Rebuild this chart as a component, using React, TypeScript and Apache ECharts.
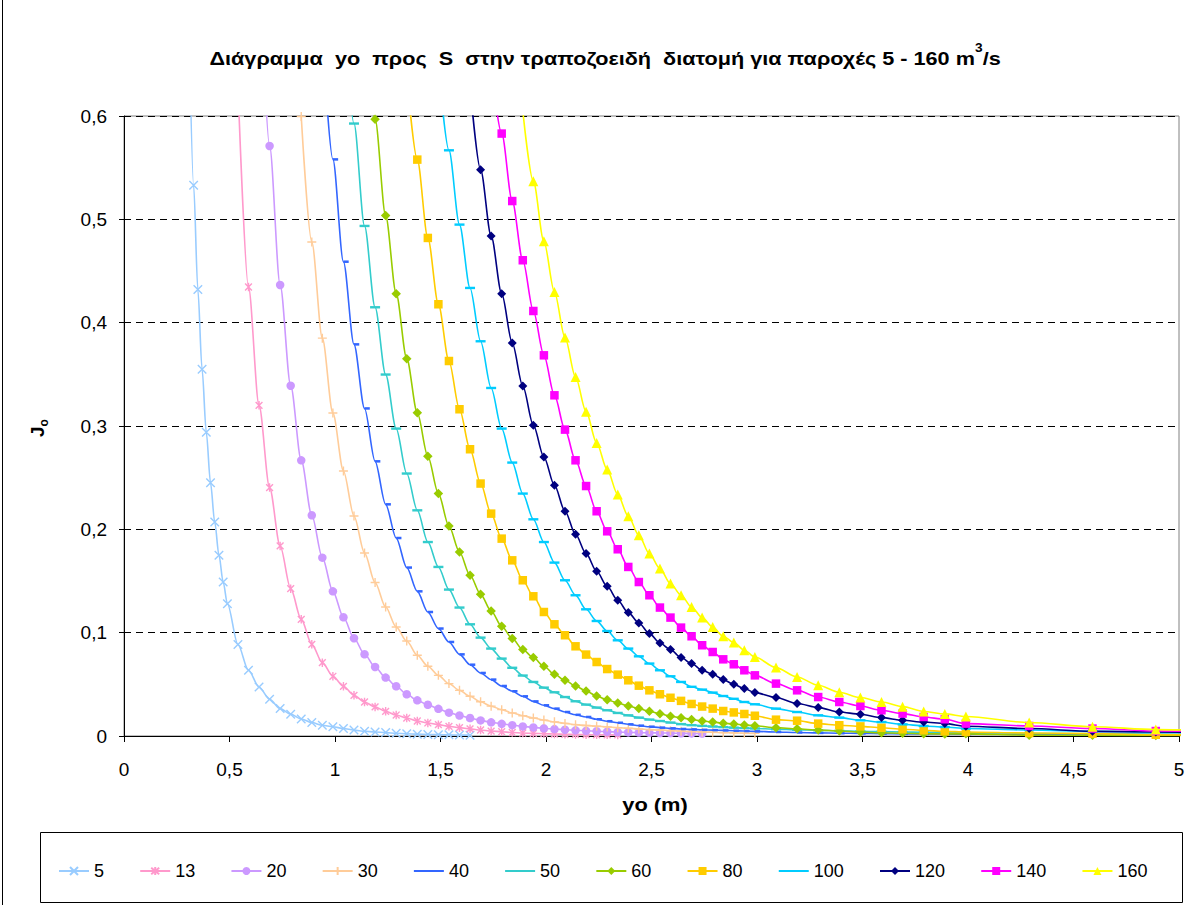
import React, { useEffect, useRef } from 'react';
import * as echarts from 'echarts';

const FONT = "'Liberation Sans', Arial, Helvetica, sans-serif";

// Discharge classes (m3/s) – legend names
const names = ['5', '13', '20', '30', '40', '50', '60', '80', '100', '120', '140', '160'];
const colors = ['#99CCFF', '#FF99CC', '#CC99FF', '#FFCC99', '#3366FF', '#33CCCC', '#99CC00', '#FFCC00', '#00CCFF', '#000080', '#FF00FF', '#FFFF00'];

// [yo (m), Jo] pairs
const q5 = [[0.31,0.67],[0.33,0.533],[0.35,0.432],[0.37,0.355],[0.39,0.294],[0.41,0.245],[0.43,0.207],[0.45,0.175],[0.47,0.149],[0.49,0.128],[0.54,0.0885],[0.59,0.0636],[0.64,0.0474],[0.69,0.0355],[0.74,0.0265],[0.79,0.021],[0.84,0.0165],[0.89,0.013],[0.94,0.0104],[0.99,0.009],[1.04,0.0072],[1.09,0.0057],[1.14,0.0046],[1.19,0.0039],[1.24,0.0033],[1.29,0.0026],[1.34,0.0022],[1.39,0.0018],[1.44,0.0015],[1.49,0.0013],[1.54,0.0011],[1.59,0.0009],[1.64,0.0008]];
const q13 = [[0.54,0.63],[0.59,0.4345],[0.64,0.32],[0.69,0.2404],[0.74,0.1839],[0.79,0.1426],[0.84,0.1129],[0.89,0.0887],[0.94,0.071],[0.99,0.0578],[1.04,0.0481],[1.09,0.0394],[1.14,0.0329],[1.19,0.0281],[1.24,0.0239],[1.29,0.0203],[1.34,0.0174],[1.39,0.0145],[1.44,0.0126],[1.49,0.011],[1.54,0.0094],[1.59,0.0081],[1.64,0.0069],[1.69,0.0058],[1.74,0.0048],[1.79,0.0041],[1.84,0.0034],[1.89,0.0029],[1.94,0.0025],[1.99,0.0022],[2.04,0.0019],[2.09,0.0017],[2.14,0.0015],[2.19,0.0013],[2.24,0.0012],[2.29,0.0011],[2.34,0.001]];
const q20 = [[0.64,0.77],[0.69,0.571],[0.74,0.4365],[0.79,0.339],[0.84,0.2668],[0.89,0.2136],[0.94,0.1726],[0.99,0.14],[1.04,0.1149],[1.09,0.0946],[1.14,0.0791],[1.19,0.0668],[1.24,0.0565],[1.29,0.0481],[1.34,0.0404],[1.39,0.0345],[1.44,0.0302],[1.49,0.0263],[1.54,0.0226],[1.59,0.0198],[1.64,0.0174],[1.69,0.0151],[1.74,0.0132],[1.79,0.0118],[1.84,0.0105],[1.89,0.0093],[1.94,0.0083],[1.99,0.0074],[2.04,0.0067],[2.09,0.0061],[2.14,0.0055],[2.19,0.005],[2.24,0.0046],[2.29,0.0042],[2.34,0.0038],[2.39,0.0035],[2.44,0.0033],[2.49,0.0031],[2.54,0.0029],[2.59,0.0028],[2.64,0.0026],[2.69,0.0025],[2.74,0.0024]];
const q30 = [[0.84,0.5995],[0.89,0.478],[0.94,0.385],[0.99,0.3126],[1.04,0.2565],[1.09,0.2129],[1.14,0.1771],[1.19,0.1485],[1.24,0.1248],[1.29,0.1055],[1.34,0.0919],[1.39,0.0781],[1.44,0.0675],[1.49,0.0587],[1.54,0.0507],[1.59,0.0442],[1.64,0.0384],[1.69,0.0331],[1.74,0.0289],[1.79,0.0255],[1.84,0.0223],[1.89,0.0196],[1.94,0.0174],[1.99,0.0154],[2.04,0.0137],[2.09,0.0122],[2.14,0.011],[2.19,0.0101],[2.24,0.0095],[2.29,0.0088],[2.34,0.0081],[2.39,0.0075],[2.44,0.0068],[2.49,0.0062],[2.54,0.0057],[2.59,0.0052],[2.64,0.0047],[2.69,0.0043],[2.74,0.0039],[2.79,0.0036],[2.84,0.0033],[2.89,0.003],[2.94,0.0027],[2.99,0.0025]];
const q40 = [[0.94,0.68],[0.99,0.558],[1.04,0.459],[1.09,0.379],[1.14,0.317],[1.19,0.2658],[1.24,0.2242],[1.29,0.1916],[1.34,0.163],[1.39,0.14],[1.44,0.12],[1.49,0.104],[1.54,0.091],[1.59,0.079],[1.64,0.069],[1.69,0.061],[1.74,0.0546],[1.79,0.0484],[1.84,0.0433],[1.89,0.0384],[1.94,0.0335],[1.99,0.0297],[2.04,0.0265],[2.09,0.0232],[2.14,0.0205],[2.19,0.0184],[2.24,0.0162],[2.29,0.0143],[2.34,0.0128],[2.39,0.0113],[2.44,0.01],[2.49,0.009],[2.54,0.0081],[2.59,0.0074],[2.64,0.0068],[2.69,0.0064],[2.74,0.006],[2.79,0.0057],[2.84,0.0054],[2.89,0.0051],[2.94,0.0048],[2.99,0.0045],[3.09,0.0039],[3.19,0.0034],[3.29,0.003],[3.39,0.0027],[3.49,0.0025],[3.59,0.0023],[3.69,0.0021],[3.79,0.002],[3.89,0.0019],[3.99,0.0018],[4.29,0.0016],[4.59,0.0014],[4.89,0.0013],[5.19,0.0012]];
const q50 = [[1.04,0.71],[1.09,0.5927],[1.14,0.4936],[1.19,0.4149],[1.24,0.3498],[1.29,0.2975],[1.34,0.254],[1.39,0.2184],[1.44,0.1877],[1.49,0.1636],[1.54,0.1417],[1.59,0.1243],[1.64,0.1081],[1.69,0.0952],[1.74,0.0846],[1.79,0.0749],[1.84,0.066],[1.89,0.0585],[1.94,0.0523],[1.99,0.0468],[2.04,0.0423],[2.09,0.0377],[2.14,0.0336],[2.19,0.0304],[2.24,0.0275],[2.29,0.0249],[2.34,0.0223],[2.39,0.02],[2.44,0.0178],[2.49,0.0159],[2.54,0.0145],[2.59,0.013],[2.64,0.0115],[2.69,0.0105],[2.74,0.0098],[2.79,0.0092],[2.84,0.0086],[2.89,0.0081],[2.94,0.0077],[2.99,0.0073],[3.09,0.0066],[3.19,0.006],[3.29,0.0055],[3.39,0.005],[3.49,0.0046],[3.59,0.0042],[3.69,0.0039],[3.79,0.0036],[3.89,0.0034],[3.99,0.0031],[4.29,0.0026],[4.59,0.0022],[4.89,0.0019],[5.19,0.0016]];
const q60 = [[1.14,0.7],[1.19,0.5968],[1.24,0.5036],[1.29,0.4281],[1.34,0.3652],[1.39,0.3128],[1.44,0.2707],[1.49,0.2346],[1.54,0.2032],[1.59,0.1781],[1.64,0.1555],[1.69,0.1371],[1.74,0.121],[1.79,0.1062],[1.84,0.0943],[1.89,0.0836],[1.94,0.0759],[1.99,0.0675],[2.04,0.0597],[2.09,0.0539],[2.14,0.0484],[2.19,0.0436],[2.24,0.0387],[2.29,0.035],[2.34,0.032],[2.39,0.029],[2.44,0.0265],[2.49,0.024],[2.54,0.0215],[2.59,0.0192],[2.64,0.0176],[2.69,0.016],[2.74,0.0145],[2.79,0.0135],[2.84,0.0124],[2.89,0.0115],[2.94,0.0107],[2.99,0.0099],[3.09,0.0081],[3.19,0.007],[3.29,0.0057],[3.39,0.0048],[3.49,0.0038],[3.59,0.0031],[3.69,0.0026],[3.79,0.0022],[3.89,0.002],[3.99,0.0021],[4.29,0.0008],[4.59,0.0007],[4.89,0.0005],[5.19,0.0004]];
const q80 = [[1.34,0.64],[1.39,0.5578],[1.44,0.482],[1.49,0.4178],[1.54,0.3629],[1.59,0.3162],[1.64,0.2775],[1.69,0.2443],[1.74,0.2152],[1.79,0.191],[1.84,0.17],[1.89,0.1507],[1.94,0.1352],[1.99,0.12],[2.04,0.1081],[2.09,0.0975],[2.14,0.0868],[2.19,0.0788],[2.24,0.0716],[2.29,0.0648],[2.34,0.0594],[2.39,0.0539],[2.44,0.0487],[2.49,0.0442],[2.54,0.0404],[2.59,0.037],[2.64,0.034],[2.69,0.031],[2.74,0.0285],[2.79,0.0265],[2.84,0.0242],[2.89,0.0228],[2.94,0.0213],[2.99,0.0196],[3.09,0.0158],[3.19,0.0148],[3.29,0.012],[3.39,0.0104],[3.49,0.0093],[3.59,0.008],[3.69,0.0065],[3.79,0.0055],[3.89,0.0045],[3.99,0.0039],[4.29,0.0029],[4.59,0.0023],[4.89,0.0012],[5.19,0.0008]];
const q100 = [[1.49,0.65],[1.54,0.5668],[1.59,0.4949],[1.64,0.4336],[1.69,0.382],[1.74,0.3368],[1.79,0.2975],[1.84,0.2646],[1.89,0.2346],[1.94,0.2097],[1.99,0.1877],[2.04,0.1678],[2.09,0.1507],[2.14,0.1362],[2.19,0.1226],[2.24,0.1113],[2.29,0.1016],[2.34,0.0926],[2.39,0.0846],[2.44,0.0771],[2.49,0.0701],[2.54,0.0636],[2.59,0.0578],[2.64,0.0523],[2.69,0.0476],[2.74,0.0449],[2.79,0.042],[2.84,0.0387],[2.89,0.036],[2.94,0.0329],[2.99,0.0307],[3.09,0.0265],[3.19,0.0232],[3.29,0.02],[3.39,0.0178],[3.49,0.0152],[3.59,0.0135],[3.69,0.0113],[3.79,0.0097],[3.89,0.0087],[3.99,0.0072],[4.29,0.0058],[4.59,0.0045],[4.89,0.0038],[5.19,0.0032]];
const q120 = [[1.64,0.63],[1.69,0.548],[1.74,0.4839],[1.79,0.4281],[1.84,0.3803],[1.89,0.3387],[1.94,0.3007],[1.99,0.27],[2.04,0.2426],[2.09,0.2175],[2.14,0.1952],[2.19,0.1765],[2.24,0.1594],[2.29,0.1449],[2.34,0.1313],[2.39,0.1194],[2.44,0.1094],[2.49,0.0991],[2.54,0.09],[2.59,0.0836],[2.64,0.0759],[2.69,0.0701],[2.74,0.0636],[2.79,0.0597],[2.84,0.0546],[2.89,0.05],[2.94,0.0459],[2.99,0.042],[3.09,0.0372],[3.19,0.0314],[3.29,0.0275],[3.39,0.0232],[3.49,0.021],[3.59,0.0178],[3.69,0.0152],[3.79,0.0135],[3.89,0.012],[3.99,0.0094],[4.29,0.0072],[4.59,0.0045],[4.89,0.0039],[5.19,0.0033]];
const q140 = [[1.74,0.65],[1.79,0.583],[1.84,0.5177],[1.89,0.4604],[1.94,0.4113],[1.99,0.3684],[2.04,0.3297],[2.09,0.2965],[2.14,0.2668],[2.19,0.2419],[2.24,0.2175],[2.29,0.1981],[2.34,0.1807],[2.39,0.1636],[2.44,0.149],[2.49,0.1362],[2.54,0.1243],[2.59,0.1146],[2.64,0.1049],[2.69,0.0965],[2.74,0.0878],[2.79,0.0813],[2.84,0.0742],[2.89,0.0694],[2.94,0.0636],[2.99,0.0587],[3.09,0.0507],[3.19,0.0442],[3.29,0.0377],[3.39,0.0329],[3.49,0.029],[3.59,0.0249],[3.69,0.0217],[3.79,0.0184],[3.89,0.0162],[3.99,0.012],[4.29,0.0097],[4.59,0.0072],[4.89,0.0048],[5.19,0.004]];
const q160 = [[1.89,0.605],[1.94,0.5368],[1.99,0.4787],[2.04,0.4297],[2.09,0.3856],[2.14,0.3474],[2.19,0.3139],[2.24,0.2836],[2.29,0.2578],[2.34,0.2336],[2.39,0.2126],[2.44,0.1942],[2.49,0.1765],[2.54,0.162],[2.59,0.1475],[2.64,0.1362],[2.69,0.1248],[2.74,0.1146],[2.79,0.1055],[2.84,0.0965],[2.89,0.0904],[2.94,0.083],[2.99,0.0765],[3.09,0.0662],[3.19,0.0571],[3.29,0.0491],[3.39,0.0423],[3.49,0.0372],[3.59,0.0329],[3.69,0.0284],[3.79,0.0237],[3.89,0.0214],[3.99,0.0188],[4.29,0.013],[4.59,0.009],[4.89,0.0062],[5.19,0.0052]];

const seriesData = [q5, q13, q20, q30, q40, q50, q60, q80, q100, q120, q140, q160];

// marker shapes (Excel-like)
const SYM_X = 'path://M0,0L10,10M10,0L0,10';
const SYM_STAR = 'path://M1,1L9,9M9,1L1,9M5,0L5,10';
const SYM_PLUS = 'path://M5,0L5,10M0,5L10,5';
const SYM_LONGDASH = 'path://M0,0M10,10M0,3.8L10,3.8L10,6.2L0,6.2Z';
const SYM_SHORTDASH = 'path://M0,0M10,10M5,3.8L10,3.8L10,6.2L5,6.2Z';

const markers = [
  { symbol: SYM_X, size: 8.5, stroke: true },
  { symbol: SYM_STAR, size: 8.5, stroke: true },
  { symbol: 'circle', size: 8.5, stroke: false },
  { symbol: SYM_PLUS, size: 9, stroke: true },
  { symbol: SYM_SHORTDASH, size: 10.5, stroke: false },
  { symbol: SYM_LONGDASH, size: 10, stroke: false },
  { symbol: 'diamond', size: 9.5, stroke: false },
  { symbol: 'rect', size: 8.5, stroke: false },
  { symbol: SYM_LONGDASH, size: 10, stroke: false },
  { symbol: 'diamond', size: 9, stroke: false },
  { symbol: 'rect', size: 8.5, stroke: false },
  { symbol: 'triangle', size: 10, stroke: false },
];

const commaFmt = (v: number) => (Number.isInteger(v) ? String(v) : v.toFixed(1).replace('.', ','));

export default function App() {
  const ref = useRef<HTMLDivElement>(null);
  useEffect(() => {
    if (!ref.current) return;
    const chart = echarts.init(ref.current, null, { renderer: 'svg' });
    const series = seriesData.map((d, i) => ({
      name: names[i],
      type: 'line',
      data: d,
      smooth: 0.3,
      smoothMonotone: 'x',
      clip: true,
      symbol: markers[i].symbol,
      symbolSize: markers[i].size,
      symbolKeepAspect: true,
      lineStyle: { color: colors[i], width: 1.6 },
      itemStyle: {
        color: colors[i],
        borderColor: colors[i],
        borderWidth: markers[i].stroke ? 1.4 : 0,
      },
      emphasis: { disabled: true },
      z: 2 + i * 0.01,
    }));

    const option: any = {
      animation: false,
      backgroundColor: '#ffffff',
      textStyle: { fontFamily: FONT },
      grid: { left: 124, right: 21, top: 116, height: 620, containLabel: false, outerBoundsMode: 'none' },
      xAxis: {
        type: 'value',
        min: 0,
        max: 5,
        interval: 0.5,
        axisLine: { show: true, onZero: false, lineStyle: { color: '#000', width: 1 } },
        axisTick: { show: true, inside: false, length: 6, lineStyle: { color: '#000', width: 1 } },
        axisLabel: { color: '#000', fontSize: 19, fontFamily: FONT, margin: 24, formatter: commaFmt },
        splitLine: { show: false },
      },
      yAxis: {
        type: 'value',
        min: 0,
        max: 0.6,
        interval: 0.1,
        axisLine: { show: true, lineStyle: { color: '#000', width: 1 } },
        axisTick: { show: true, inside: false, length: 5, lineStyle: { color: '#000', width: 1 } },
        axisLabel: { color: '#000', fontSize: 19, fontFamily: FONT, margin: 17, formatter: commaFmt },
        splitLine: { show: true, lineStyle: { color: '#000', width: 1, type: [7, 5] } },
      },
      legend: {
        data: names,
        left: 53,
        top: 857,
        orient: 'horizontal',
        itemWidth: 30,
        itemHeight: 10,
        itemGap: 35.2,
        selectedMode: false,
        textStyle: { color: '#000', fontSize: 18, fontFamily: FONT },
      },
      graphic: [
        { type: 'rect', z: -10, shape: { x: 124, y: 116, width: 1055, height: 620 }, style: { fill: 'none', stroke: '#808080', lineWidth: 1 } },
        { type: 'rect', z: -10, shape: { x: 40.5, y: 832.5, width: 1142, height: 70 }, style: { fill: 'none', stroke: '#000', lineWidth: 1 } },
        { type: 'line', z: -10, shape: { x1: 2.5, y1: 0, x2: 2.5, y2: 905 }, style: { stroke: '#000', lineWidth: 1 } },
        {
          type: 'text',
          x: 605,
          y: 55,
          scaleX: 1.14,
          style: {
            text: '{t|Διάγραμμα  yo  προς  S  στην τραποζοειδή  διατομή για παροχές 5 - 160 m}{s|3}{t|/s}',
            align: 'center',
            verticalAlign: 'middle',
            rich: {
              t: { fontSize: 19, fontWeight: 'bold', fontFamily: FONT, fill: '#000', lineHeight: 26, verticalAlign: 'bottom' },
              s: { fontSize: 12, fontWeight: 'bold', fontFamily: FONT, fill: '#000', lineHeight: 12, verticalAlign: 'top' },
            },
          },
        },
        {
          type: 'text',
          x: 655,
          y: 804,
          scaleX: 1.15,
          style: { text: 'yo (m)', align: 'center', verticalAlign: 'middle', fontSize: 19, fontWeight: 'bold', fontFamily: FONT, fill: '#000' },
        },
        {
          type: 'text',
          x: 39,
          y: 428,
          rotation: Math.PI / 2,
          style: {
            text: '{j|J}{o|o}',
            align: 'center',
            verticalAlign: 'middle',
            rich: {
              j: { fontSize: 19, fontWeight: 'bold', fontFamily: FONT, fill: '#000', lineHeight: 22, verticalAlign: 'top' },
              o: { fontSize: 12, fontWeight: 'bold', fontFamily: FONT, fill: '#000', lineHeight: 14, verticalAlign: 'bottom' },
            },
          },
        },
      ],
      series,
    };
    chart.setOption(option);
    return () => chart.dispose();
  }, []);
  return (
    <div
      ref={ref}
      style={{ position: 'absolute', left: 0, top: 0, width: 1200, height: 905, background: '#fff' }}
    />
  );
}
